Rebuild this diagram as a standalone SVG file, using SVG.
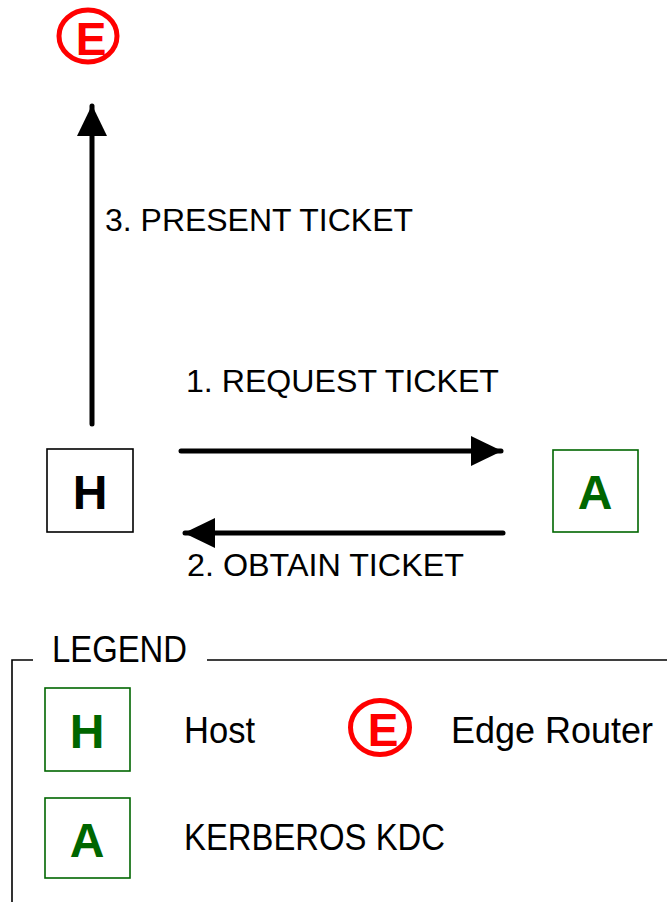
<svg xmlns="http://www.w3.org/2000/svg" width="667" height="902" viewBox="0 0 667 902">
  <style>
    .lbl { font-family: "Liberation Sans", Arial, sans-serif; font-size: 31px; fill: #000; }
    .leg { font-family: "Liberation Sans", Arial, sans-serif; font-size: 36px; fill: #000; }
    .big { font-family: "Liberation Sans", Arial, sans-serif; font-weight: bold; font-size: 48px; text-anchor: middle; }
    .edge { font-family: "Liberation Sans", Arial, sans-serif; font-weight: bold; font-size: 46px; text-anchor: middle; fill: #ff0000; }
    .ring { fill: none; stroke: #ff0000; stroke-width: 5; }
    .hostbox { fill: #fff; stroke: #000; stroke-width: 1.6; }
    .kdcbox { fill: #fff; stroke: #006600; stroke-width: 1.6; }
    .wire { stroke: #000; stroke-width: 5; stroke-linecap: round; fill: none; }
    .frame { stroke: #000; stroke-width: 1.6; fill: none; }
  </style>
  <defs>
    <marker id="head" markerUnits="userSpaceOnUse" markerWidth="34" markerHeight="32" refX="30" refY="15" orient="auto">
      <path d="M0,0 L31,15 L0,30 Z" fill="#000"/>
    </marker>
  </defs>

  <rect width="667" height="902" fill="#fff"/>

  <!-- Edge router -->
  <g id="edge-router">
    <ellipse class="ring" cx="88" cy="36" rx="29" ry="26"/>
    <text class="edge" x="91" y="55">E</text>
  </g>

  <!-- Host -->
  <g id="host">
    <rect class="hostbox" x="47" y="449" width="86" height="83"/>
    <text class="big" x="90" y="509" fill="#000">H</text>
  </g>

  <!-- Kerberos KDC -->
  <g id="kdc">
    <rect class="kdcbox" x="553" y="450" width="85" height="82"/>
    <text class="big" x="595" y="509" fill="#006600">A</text>
  </g>

  <!-- Connectors -->
  <g id="connectors">
    <line class="wire" x1="92" y1="424" x2="92" y2="106" marker-end="url(#head)"/>
    <line class="wire" x1="181" y1="451" x2="501" y2="451" marker-end="url(#head)"/>
    <line class="wire" x1="503" y1="533" x2="185" y2="533" marker-end="url(#head)"/>
    <text class="lbl" x="105" y="231" textLength="308" lengthAdjust="spacingAndGlyphs">3. PRESENT TICKET</text>
    <text class="lbl" x="186" y="392" textLength="313" lengthAdjust="spacingAndGlyphs">1. REQUEST TICKET</text>
    <text class="lbl" x="187" y="576" textLength="277" lengthAdjust="spacingAndGlyphs">2. OBTAIN TICKET</text>
  </g>

  <!-- Legend -->
  <g id="legend">
    <path class="frame" d="M12,902 L12,660 L33,660 M207,660 L667,660"/>
    <text class="leg" x="52" y="662" textLength="135" lengthAdjust="spacingAndGlyphs">LEGEND</text>

    <g id="legend-host">
      <rect class="kdcbox" x="45" y="688" width="85" height="83"/>
      <text class="big" x="87" y="748" fill="#006600">H</text>
      <text class="leg" x="184" y="743" textLength="71" lengthAdjust="spacingAndGlyphs">Host</text>
    </g>

    <g id="legend-edge">
      <ellipse class="ring" cx="380" cy="727.5" rx="29.5" ry="27"/>
      <text class="edge" x="383" y="746">E</text>
      <text class="leg" x="451" y="743" textLength="202" lengthAdjust="spacingAndGlyphs">Edge Router</text>
    </g>

    <g id="legend-kdc">
      <rect class="kdcbox" x="45" y="798" width="85" height="80"/>
      <text class="big" x="87" y="857" fill="#006600">A</text>
      <text class="leg" x="184" y="850" textLength="261" lengthAdjust="spacingAndGlyphs">KERBEROS KDC</text>
    </g>
  </g>
</svg>
